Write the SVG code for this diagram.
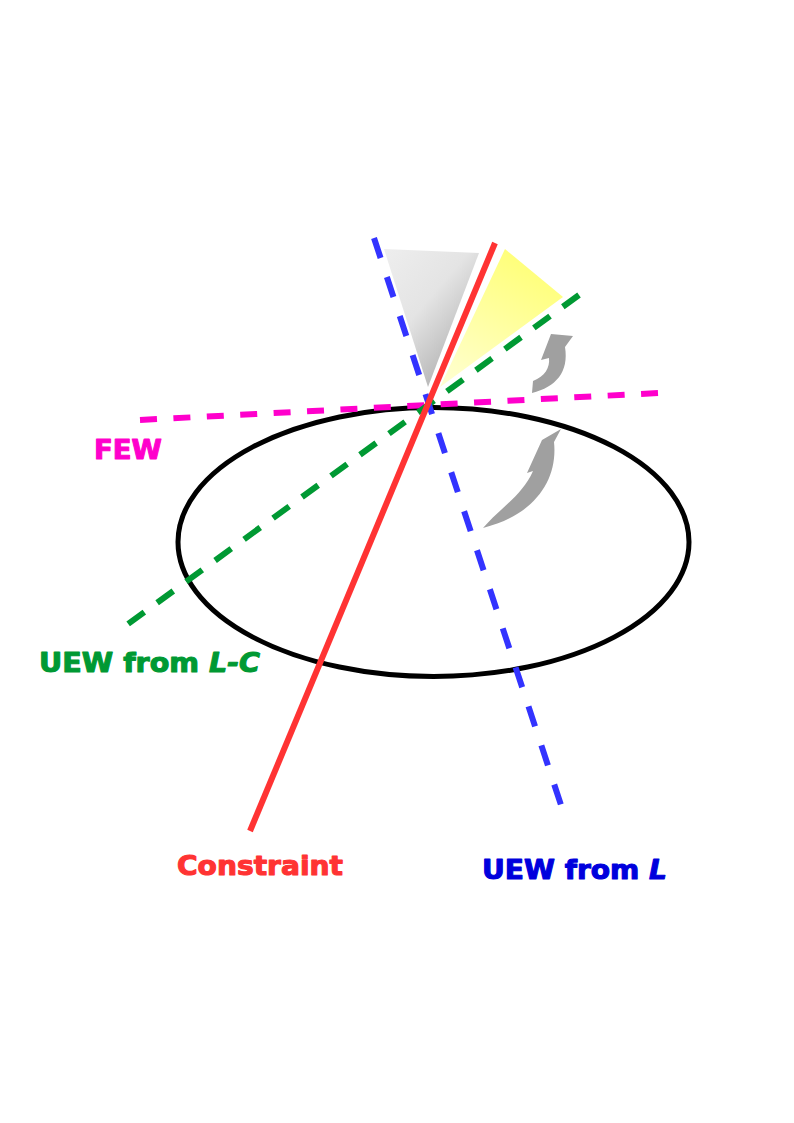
<svg xmlns="http://www.w3.org/2000/svg" width="794" height="1123" viewBox="0 0 794 1123">
<defs>
<linearGradient id="gGrey" x1="0" y1="0" x2="0.8" y2="1">
<stop offset="0" stop-color="#eeeeee"/>
<stop offset="0.45" stop-color="#e4e4e4"/>
<stop offset="1" stop-color="#a8a8a8"/>
</linearGradient>
<linearGradient id="gYellow" x1="0.6" y1="0" x2="0.1" y2="1">
<stop offset="0" stop-color="#ffff77"/>
<stop offset="1" stop-color="#ffffd0"/>
</linearGradient>
<style>
.lbl{font-family:"DejaVu Sans","Liberation Sans",sans-serif;font-weight:bold;font-size:27px;stroke-width:1.1;stroke-linejoin:round}
.dash{fill:none;stroke-width:6}
.arrow{fill:#a0a0a0}
</style>
</defs>
<rect width="794" height="1123" fill="#ffffff"/>
<g id="sector-grey"><polygon points="384,249 479,253 428,387" fill="url(#gGrey)"/></g>
<g id="sector-yellow"><polygon points="505,249 563,297 440,387" fill="url(#gYellow)"/></g>
<g id="ellipse"><ellipse cx="433.5" cy="542" rx="255.5" ry="134.5" fill="none" stroke="#000000" stroke-width="5"/></g>
<g id="connectors">
<line id="few-line" class="dash" x1="140" y1="420" x2="658" y2="393" stroke="#ff00cc" stroke-dasharray="17 16.45"/>
<line id="uew-lc-line" class="dash" x1="579" y1="295" x2="128" y2="624" stroke="#009933" stroke-dasharray="20 15.87"/>
<line id="uew-l-line" class="dash" x1="374" y1="238" x2="561" y2="805" stroke="#3333ff" stroke-dasharray="21 20.1"/>
<line id="constraint-line" x1="495" y1="243" x2="250" y2="831" stroke="#ff3333" stroke-width="6"/>
</g>
<g id="arrow-small"><path class="arrow" d="M551,334 L573,336 L565,347 C569,372 556,387 532,393 L533,381 C545,376 550,368 549,358 L541,360 Z"/></g>
<g id="arrow-big"><path class="arrow" d="M561,429 L554,442 C558,480 535,515 483,528 C500,508 522,496 533,471 L527,473 L542,440 Z"/></g>
<g id="label-few"><text class="lbl" x="94" y="459" fill="#ff00cc" stroke="#ff00cc" textLength="68" lengthAdjust="spacingAndGlyphs">FEW</text></g>
<g id="label-uew-lc"><text class="lbl" x="39" y="672" fill="#009933" stroke="#009933" textLength="221" lengthAdjust="spacingAndGlyphs">UEW from <tspan font-style="italic">L-C</tspan></text></g>
<g id="label-constraint"><text class="lbl" x="177" y="875" fill="#ff3333" stroke="#ff3333" textLength="166" lengthAdjust="spacingAndGlyphs">Constraint</text></g>
<g id="label-uew-l"><text class="lbl" x="482" y="879" fill="#0000dd" stroke="#0000dd" textLength="185" lengthAdjust="spacingAndGlyphs">UEW from <tspan font-style="italic">L</tspan></text></g>
</svg>
